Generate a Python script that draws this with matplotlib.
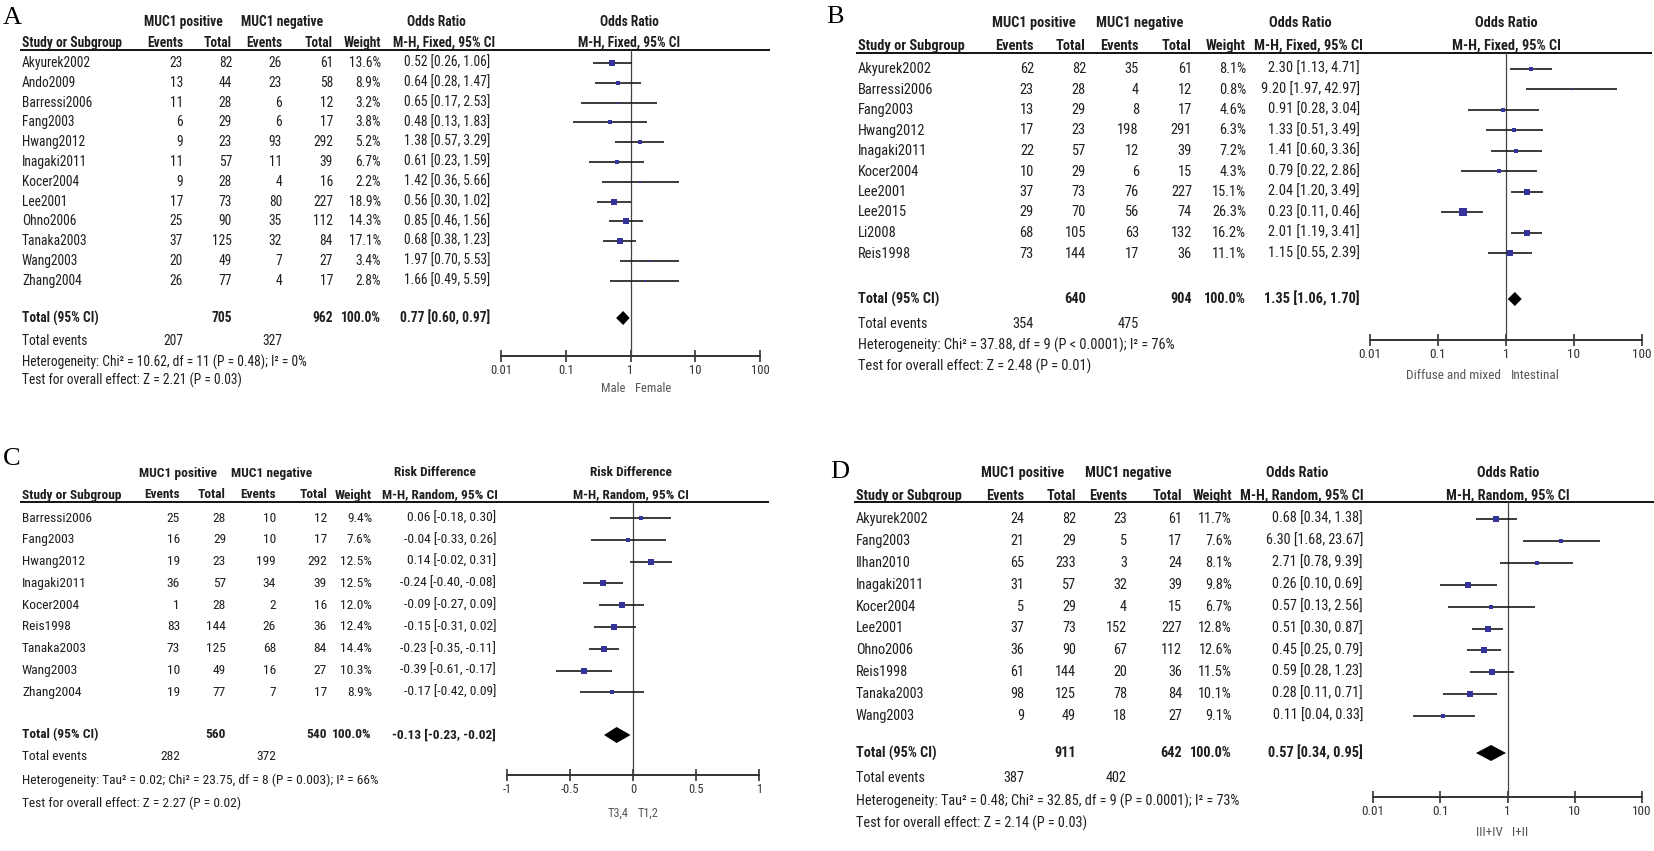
import os
import numpy as np
import matplotlib.pyplot as plt
import matplotlib.font_manager as fm
from matplotlib.ticker import NullLocator

W, H = 1654, 851

# ---------------- data, panel A (Male / Female) ----------------
a_study = ["Akyurek2002", "Ando2009", "Barressi2006", "Fang2003", "Hwang2012", "Inagaki2011",
           "Kocer2004", "Lee2001", "Ohno2006", "Tanaka2003", "Wang2003", "Zhang2004"]
a_pos_ev = [23, 13, 11, 6, 9, 11, 9, 17, 25, 37, 20, 26]
a_pos_tot = [82, 44, 28, 29, 23, 57, 28, 73, 90, 125, 49, 77]
a_neg_ev = [26, 23, 6, 6, 93, 11, 4, 80, 35, 32, 7, 4]
a_neg_tot = [61, 58, 12, 17, 292, 39, 16, 227, 112, 84, 27, 17]
a_weight = [13.6, 8.9, 3.2, 3.8, 5.2, 6.7, 2.2, 18.9, 14.3, 17.1, 3.4, 2.8]
a_est = [0.52, 0.64, 0.65, 0.48, 1.38, 0.61, 1.42, 0.56, 0.85, 0.68, 1.97, 1.66]
a_lo = [0.26, 0.28, 0.17, 0.13, 0.57, 0.23, 0.36, 0.30, 0.46, 0.38, 0.70, 0.49]
a_hi = [1.06, 1.47, 2.53, 1.83, 3.29, 1.59, 5.66, 1.02, 1.56, 1.23, 5.53, 5.59]
a_tot_n = [705, 962]
a_tot_ev = [207, 327]
a_pooled = [0.77, 0.60, 0.97]
a_het = "Heterogeneity: Chi² = 10.62, df = 11 (P = 0.48); I² = 0%"
a_test = "Test for overall effect: Z = 2.21 (P = 0.03)"
a_sides = ["Male", "Female"]

# ---------------- panel B (Diffuse and mixed / Intestinal) ----------------
b_study = ["Akyurek2002", "Barressi2006", "Fang2003", "Hwang2012", "Inagaki2011",
           "Kocer2004", "Lee2001", "Lee2015", "Li2008", "Reis1998"]
b_pos_ev = [62, 23, 13, 17, 22, 10, 37, 29, 68, 73]
b_pos_tot = [82, 28, 29, 23, 57, 29, 73, 70, 105, 144]
b_neg_ev = [35, 4, 8, 198, 12, 6, 76, 56, 63, 17]
b_neg_tot = [61, 12, 17, 291, 39, 15, 227, 74, 132, 36]
b_weight = [8.1, 0.8, 4.6, 6.3, 7.2, 4.3, 15.1, 26.3, 16.2, 11.1]
b_est = [2.30, 9.20, 0.91, 1.33, 1.41, 0.79, 2.04, 0.23, 2.01, 1.15]
b_lo = [1.13, 1.97, 0.28, 0.51, 0.60, 0.22, 1.20, 0.11, 1.19, 0.55]
b_hi = [4.71, 42.97, 3.04, 3.49, 3.36, 2.86, 3.49, 0.46, 3.41, 2.39]
b_tot_n = [640, 904]
b_tot_ev = [354, 475]
b_pooled = [1.35, 1.06, 1.70]
b_het = "Heterogeneity: Chi² = 37.88, df = 9 (P < 0.0001); I² = 76%"
b_test = "Test for overall effect: Z = 2.48 (P = 0.01)"
b_sides = ["Diffuse and mixed", "Intestinal"]

# ---------------- panel C (T3,4 / T1,2), risk difference ----------------
c_study = ["Barressi2006", "Fang2003", "Hwang2012", "Inagaki2011", "Kocer2004",
           "Reis1998", "Tanaka2003", "Wang2003", "Zhang2004"]
c_pos_ev = [25, 16, 19, 36, 1, 83, 73, 10, 19]
c_pos_tot = [28, 29, 23, 57, 28, 144, 125, 49, 77]
c_neg_ev = [10, 10, 199, 34, 2, 26, 68, 16, 7]
c_neg_tot = [12, 17, 292, 39, 16, 36, 84, 27, 17]
c_weight = [9.4, 7.6, 12.5, 12.5, 12.0, 12.4, 14.4, 10.3, 8.9]
c_est = [0.06, -0.04, 0.14, -0.24, -0.09, -0.15, -0.23, -0.39, -0.17]
c_lo = [-0.18, -0.33, -0.02, -0.40, -0.27, -0.31, -0.35, -0.61, -0.42]
c_hi = [0.30, 0.26, 0.31, -0.08, 0.09, 0.02, -0.11, -0.17, 0.09]
c_tot_n = [560, 540]
c_tot_ev = [282, 372]
c_pooled = [-0.13, -0.23, -0.02]
c_het = "Heterogeneity: Tau² = 0.02; Chi² = 23.75, df = 8 (P = 0.003); I² = 66%"
c_test = "Test for overall effect: Z = 2.27 (P = 0.02)"
c_sides = ["T3,4", "T1,2"]

# ---------------- panel D (III+IV / I+II) ----------------
d_study = ["Akyurek2002", "Fang2003", "Ilhan2010", "Inagaki2011", "Kocer2004",
           "Lee2001", "Ohno2006", "Reis1998", "Tanaka2003", "Wang2003"]
d_pos_ev = [24, 21, 65, 31, 5, 37, 36, 61, 98, 9]
d_pos_tot = [82, 29, 233, 57, 29, 73, 90, 144, 125, 49]
d_neg_ev = [23, 5, 3, 32, 4, 152, 67, 20, 78, 18]
d_neg_tot = [61, 17, 24, 39, 15, 227, 112, 36, 84, 27]
d_weight = [11.7, 7.6, 8.1, 9.8, 6.7, 12.8, 12.6, 11.5, 10.1, 9.1]
d_est = [0.68, 6.30, 2.71, 0.26, 0.57, 0.51, 0.45, 0.59, 0.28, 0.11]
d_lo = [0.34, 1.68, 0.78, 0.10, 0.13, 0.30, 0.25, 0.28, 0.11, 0.04]
d_hi = [1.38, 23.67, 9.39, 0.69, 2.56, 0.87, 0.79, 1.23, 0.71, 0.33]
d_tot_n = [911, 642]
d_tot_ev = [387, 402]
d_pooled = [0.57, 0.34, 0.95]
d_het = "Heterogeneity: Tau² = 0.48; Chi² = 32.85, df = 9 (P = 0.0001); I² = 73%"
d_test = "Test for overall effect: Z = 2.14 (P = 0.03)"
d_sides = ["III+IV", "I+II"]

or_ticks = [0.01, 0.1, 1, 10, 100]
or_labels = ["0.01", "0.1", "1", "10", "100"]
rd_ticks = [-1, -0.5, 0, 0.5, 1]
rd_labels = ["-1", "-0.5", "0", "0.5", "1"]

panels = {
    "A": dict(study=a_study, pos_ev=a_pos_ev, pos_tot=a_pos_tot, neg_ev=a_neg_ev, neg_tot=a_neg_tot,
              weight=a_weight, est=a_est, lo=a_lo, hi=a_hi, tot_n=a_tot_n, tot_ev=a_tot_ev,
              pooled=a_pooled, het=a_het, test=a_test, sides=a_sides,
              effect="Odds Ratio", method="M-H, Fixed, 95% CI", ticks=or_ticks, tlabels=or_labels, log=True, ref=1),
    "B": dict(study=b_study, pos_ev=b_pos_ev, pos_tot=b_pos_tot, neg_ev=b_neg_ev, neg_tot=b_neg_tot,
              weight=b_weight, est=b_est, lo=b_lo, hi=b_hi, tot_n=b_tot_n, tot_ev=b_tot_ev,
              pooled=b_pooled, het=b_het, test=b_test, sides=b_sides,
              effect="Odds Ratio", method="M-H, Fixed, 95% CI", ticks=or_ticks, tlabels=or_labels, log=True, ref=1),
    "C": dict(study=c_study, pos_ev=c_pos_ev, pos_tot=c_pos_tot, neg_ev=c_neg_ev, neg_tot=c_neg_tot,
              weight=c_weight, est=c_est, lo=c_lo, hi=c_hi, tot_n=c_tot_n, tot_ev=c_tot_ev,
              pooled=c_pooled, het=c_het, test=c_test, sides=c_sides,
              effect="Risk Difference", method="M-H, Random, 95% CI", ticks=rd_ticks, tlabels=rd_labels, log=False, ref=0),
    "D": dict(study=d_study, pos_ev=d_pos_ev, pos_tot=d_pos_tot, neg_ev=d_neg_ev, neg_tot=d_neg_tot,
              weight=d_weight, est=d_est, lo=d_lo, hi=d_hi, tot_n=d_tot_n, tot_ev=d_tot_ev,
              pooled=d_pooled, het=d_het, test=d_test, sides=d_sides,
              effect="Odds Ratio", method="M-H, Random, 95% CI", ticks=or_ticks, tlabels=or_labels, log=True, ref=1),
}

# ---------------- layout (pixels from top-left) ----------------
# hetw = pixel width of the heterogeneity line, used to size the text
layout = {
    "A": dict(label=(3, 18), x0=22, cols=[183, 232, 282, 333, 381, 490], grp=[183, 282], eff=436, mh=444,
              plot=629, line_end=770, fx=(501, 760), hdr=(22, 43), line=50, row0=63, dy=19.8,
              total=318, te=341, het=362, test=380, axis=356, sub=389, dh=7, hetw=283),
    "B": dict(label=(826, 17), x0=858, cols=[1034, 1086, 1139, 1192, 1246, 1360], grp=[1034, 1140], eff=1300,
              mh=1308, plot=1506, line_end=1652, fx=(1370, 1642), hdr=(23, 46), line=53, row0=69, dy=20.5,
              total=299, te=324, het=345, test=366, axis=340, sub=376, dh=7, hetw=314),
    "C": dict(label=(3, 459), x0=22, cols=[180, 226, 276, 327, 372, 496], grp=[178, 272], eff=435, mh=440,
              plot=631, line_end=769, fx=(507, 759), hdr=(473, 495), line=502, row0=518, dy=21.8,
              total=735, te=757, het=780, test=803, axis=775, sub=813, dh=8, hetw=350),
    "D": dict(label=(830, 472), x0=856, cols=[1024, 1076, 1127, 1182, 1232, 1363], grp=[1023, 1128], eff=1297,
              mh=1302, plot=1508, line_end=1654, fx=(1373, 1642), hdr=(473, 496), line=502, row0=519, dy=21.9,
              total=753, te=778, het=801, test=823, axis=797, sub=833, dh=8, hetw=381),
}

# ---------------- fonts: prefer a narrow sans if one is installed ----------------
files = {os.path.basename(f.fname): f.fname for f in fm.fontManager.ttflist}
prefs = ['liberationsansnarrow', 'arialnarrow', 'robotocondensed', 'opensanscondensed',
         'notosanscondensed', 'dejavusanscondensed']


def pick(bold):
    for p in prefs:
        for n in sorted(files):
            low = n.lower().replace('_', '').replace('-', '')
            if not low.startswith(p) or 'italic' in low or 'oblique' in low:
                continue
            rest = low[len(p):]
            if bold and 'bold' in rest and not any(k in rest for k in ('semi', 'extra', 'ultra', 'demi')):
                return files[n]
            if not bold and not any(k in rest for k in ('bold', 'light', 'thin', 'medium', 'black', 'semi', 'extra')):
                return files[n]
    return None


REG, BOLD = pick(False), pick(True)
if REG is None or BOLD is None:
    REG = BOLD = None


def font(size, bold=False):
    if REG is None:
        return fm.FontProperties(family='Liberation Sans', weight='bold' if bold else 'normal', size=size)
    return fm.FontProperties(fname=BOLD if bold else REG, size=size)


INK = '#1e1e1e'
SQ = '#333399'

fig = plt.figure(figsize=(W / 100, H / 100), dpi=100)
tx = fig.add_axes([0, 0, 1, 1])
tx.set_xlim(0, W)
tx.set_ylim(H, 0)
tx.axis('off')
renderer = fig.canvas.get_renderer()


def fit_size(s, target):
    t = tx.text(0, 0, s, fontproperties=font(10))
    w = t.get_window_extent(renderer=renderer).width
    t.remove()
    return min(10 * target / w, 12.0)


def draw_panel(tag, d, L):
    fs = fit_size(d['het'], L['hetw'])
    tfs = fs * 0.92
    x0, c = L['x0'], L['cols']
    tx.text(L['label'][0], L['label'][1], tag, family='Liberation Serif', fontsize=19,
            ha='left', va='center', color='k')

    # header
    y1, y2 = L['hdr']
    hk = dict(fontproperties=font(fs, True), color=INK, va='center')
    tx.text(L['grp'][0], y1, "MUC1 positive", ha='center', **hk)
    tx.text(L['grp'][1], y1, "MUC1 negative", ha='center', **hk)
    tx.text(L['eff'], y1, d['effect'], ha='center', **hk)
    tx.text(L['plot'], y1, d['effect'], ha='center', **hk)
    tx.text(x0, y2, "Study or Subgroup", ha='left', **hk)
    for xr, s in zip(c[:5], ["Events", "Total", "Events", "Total", "Weight"]):
        tx.text(xr, y2, s, ha='right', **hk)
    tx.text(L['mh'], y2, d['method'], ha='center', **hk)
    tx.text(L['plot'], y2, d['method'], ha='center', **hk)
    tx.plot([x0 - 2, L['line_end']], [L['line'], L['line']], color='k', lw=1.3, solid_capstyle='butt')

    # study rows
    rows = L['row0'] + L['dy'] * np.arange(len(d['study']))
    nk = dict(fontproperties=font(fs), color=INK, va='center')
    for i, y in enumerate(rows):
        tx.text(x0, y, d['study'][i], ha='left', **nk)
        vals = [d['pos_ev'][i], d['pos_tot'][i], d['neg_ev'][i], d['neg_tot'][i],
                f"{d['weight'][i]:.1f}%", f"{d['est'][i]:.2f} [{d['lo'][i]:.2f}, {d['hi'][i]:.2f}]"]
        for xr, v in zip(c, vals):
            tx.text(xr, y, str(v), ha='right', **nk)

    # totals
    pe, pl, ph = d['pooled']
    tx.text(x0, L['total'], "Total (95% CI)", ha='left', **hk)
    tx.text(c[1], L['total'], str(d['tot_n'][0]), ha='right', **hk)
    tx.text(c[3], L['total'], str(d['tot_n'][1]), ha='right', **hk)
    tx.text(c[4], L['total'], "100.0%", ha='right', **hk)
    tx.text(c[5], L['total'], f"{pe:.2f} [{pl:.2f}, {ph:.2f}]", ha='right', **hk)
    tx.text(x0, L['te'], "Total events", ha='left', **nk)
    tx.text(c[0], L['te'], str(d['tot_ev'][0]), ha='right', **nk)
    tx.text(c[2], L['te'], str(d['tot_ev'][1]), ha='right', **nk)
    tx.text(x0, L['het'], d['het'], ha='left', **nk)
    tx.text(x0, L['test'], d['test'], ha='left', **nk)

    # forest plot
    fx0, fx1 = L['fx']
    ytop, ybot = L['line'], L['axis']
    ax = fig.add_axes([fx0 / W, 1 - ybot / H, (fx1 - fx0) / W, (ybot - ytop) / H])
    if d['log']:
        ax.set_xscale('log')
    ax.set_xlim(d['ticks'][0], d['ticks'][-1])
    ax.set_ylim(ybot, ytop)
    ax.patch.set_visible(False)
    for s in ('top', 'left', 'right'):
        ax.spines[s].set_visible(False)
    ax.spines['bottom'].set_linewidth(1.4)
    ax.spines['bottom'].set_color('#333333')
    ax.set_yticks([])
    ax.set_xticks(d['ticks'])
    ax.set_xticklabels(d['tlabels'])
    ax.xaxis.set_minor_locator(NullLocator())
    ax.tick_params(axis='x', direction='inout', length=8, width=1.2, colors='#333333', pad=2)
    for t in ax.get_xticklabels():
        t.set_fontproperties(font(tfs))
    ax.axvline(d['ref'], color='#444444', lw=0.9)
    ax.hlines(rows, d['lo'], d['hi'], color='#1a1a1a', lw=1.2)
    for y, e, w in zip(rows, d['est'], d['weight']):
        ax.plot(e, y, 's', ms=1.15 * np.sqrt(w), color=SQ, mew=0)
    yt, dh = L['total'], L['dh']
    ax.fill([pl, pe, ph, pe], [yt, yt - dh, yt, yt + dh], color='k', lw=0)
    ax.annotate(d['sides'][0], xy=(d['ref'], L['sub']), xytext=(-3.5, 0), textcoords='offset points',
                ha='right', va='center', fontproperties=font(tfs), color='#555555', annotation_clip=False)
    ax.annotate(d['sides'][1], xy=(d['ref'], L['sub']), xytext=(3.5, 0), textcoords='offset points',
                ha='left', va='center', fontproperties=font(tfs), color='#555555', annotation_clip=False)


for tag in ["A", "B", "C", "D"]:
    draw_panel(tag, panels[tag], layout[tag])

fig.savefig("out.png", dpi=100)
